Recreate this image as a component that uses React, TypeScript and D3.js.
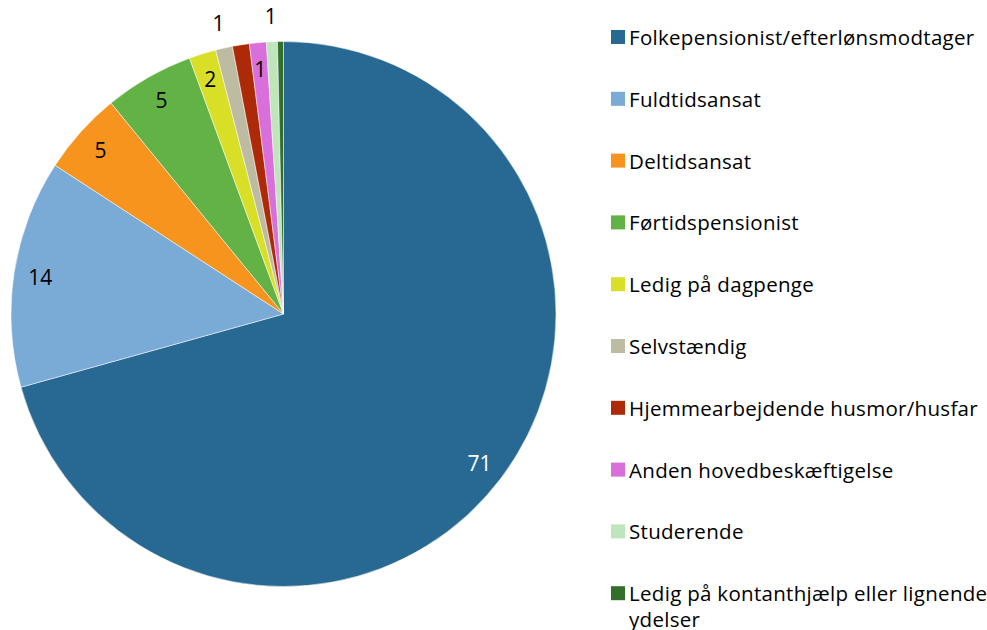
import React from "react";
import * as d3 from "d3";

const categories = [
  "Folkepensionist/efterlønsmodtager",
  "Fuldtidsansat",
  "Deltidsansat",
  "Førtidspensionist",
  "Ledig på dagpenge",
  "Selvstændig",
  "Hjemmearbejdende husmor/husfar",
  "Anden hovedbeskæftigelse",
  "Studerende",
  "Ledig på kontanthjælp eller lignende ydelser",
];
const values = [70.6, 13.5, 4.9, 5.3, 1.6, 1.0, 1.0, 1.0, 0.65, 0.35];
const valueLabels = ["71", "14", "5", "5", "2", "1", "", "1", "1", ""];
const labelOutside = [false, false, false, false, false, true, false, false, true, false];
const colors = [
  "#276993",
  "#7AAAD6",
  "#F7941E",
  "#62B246",
  "#D9DF26",
  "#BDBCA2",
  "#AD2A08",
  "#D86FDA",
  "#BFE5BC",
  "#336E2B",
];

const W = 987;
const H = 630;
const FONT = "'Open Sans', sans-serif";

export default function App() {
  const cx = 283.5;
  const cy = 314;
  const R = 272.5;
  const pie = d3.pie<number>().sort(null).value((d) => d)(values);
  const arc = d3.arc<d3.PieArcDatum<number>>().innerRadius(0).outerRadius(R);
  const inLab = d3.arc<d3.PieArcDatum<number>>().innerRadius(246).outerRadius(246);
  const outLab = d3.arc<d3.PieArcDatum<number>>().innerRadius(298).outerRadius(298);

  const legX = 611;
  const legY0 = 37;
  const legStep = 61.8;

  return (
    <svg width={W} height={H} style={{ position: "absolute", left: 0, top: 0 }} fontFamily={FONT}>
      <rect width={W} height={H} fill="#fff" />
      <g transform={`translate(${cx},${cy})`}>
        {pie.map((p, i) => (
          <path key={i} d={arc(p) || ""} fill={colors[i]} stroke="#fff" strokeWidth={0.5} />
        ))}
        {pie.map((p, i) => {
          if (!valueLabels[i]) return null;
          const [x, y] = (labelOutside[i] ? outLab : inLab).centroid(p);
          return (
            <text
              key={i}
              x={x}
              y={y}
              textAnchor="middle"
              dominantBaseline="central"
              fontSize={21}
              fill={i === 0 ? "#fff" : "#000"}
            >
              {valueLabels[i]}
            </text>
          );
        })}
      </g>
      <g>
        {categories.map((c, i) => {
          const y = legY0 + i * legStep;
          const wrap = i === categories.length - 1;
          return (
            <g key={i}>
              <rect x={legX} y={y - 7} width={14} height={14} fill={colors[i]} />
              <text x={legX + 18} y={y} dominantBaseline="central" fontSize={20.5} letterSpacing={0.3} fill="#000">
                {wrap ? (
                  <>
                    <tspan x={legX + 18}>Ledig på kontanthjælp eller lignende</tspan>
                    <tspan x={legX + 18} dy={26}>ydelser</tspan>
                  </>
                ) : (
                  c
                )}
              </text>
            </g>
          );
        })}
      </g>
    </svg>
  );
}
